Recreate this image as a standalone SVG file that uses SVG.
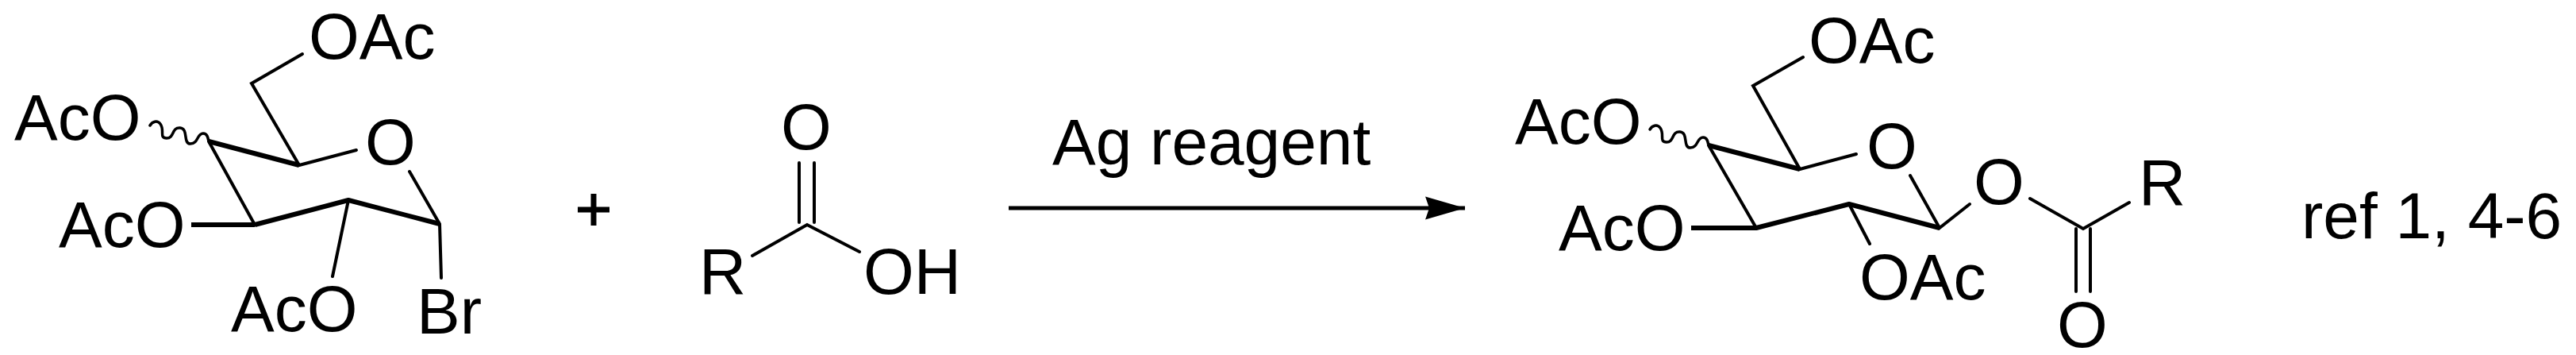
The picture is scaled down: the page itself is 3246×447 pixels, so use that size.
<svg xmlns="http://www.w3.org/2000/svg" width="3246" height="447" viewBox="0 0 3246 447">
<style>
text{font-family:"Liberation Sans",Arial,sans-serif;font-size:82px;fill:#000}
.b{fill:none;stroke:#000;stroke-width:4;stroke-linecap:round;stroke-linejoin:miter}
.t{fill:none;stroke:#000;stroke-width:6;stroke-linecap:butt;stroke-linejoin:round}
.w{fill:none;stroke:#000;stroke-width:3.5;stroke-linecap:round;stroke-linejoin:round}
</style>
<defs>
<marker id="ah" markerUnits="userSpaceOnUse" markerWidth="52" markerHeight="30" refX="50" refY="15" orient="auto"><path d="M0 0.5L50 15L0 29.5L5 15Z" fill="#000"/></marker>
</defs>
<rect width="3246" height="447" fill="#fff"/>
<g id="connectors">
<path class="b" d="M381 68L317 105L377 208M449 189L377 208"/>
<path class="t" d="M263 178L377 208"/>
<path class="b" d="M263 178L321 283M516 216L554 282L556 350M439 252L419 348"/>
<path class="t" d="M321 283L439 252L554 282M241 283L321 283"/>
<path class="w" d="M189 158C192 153 198 151 202 156C208 164 200 174 210 174C220 174 216 160 227 161C238 162 230 181 240 181C250 181 248 168 256 168C261 168 262 173 263 178"/>
<path class="b" d="M1007 205L1007 280M1026 205L1026 280M948 322L1017 283L1083 317"/>
<path d="M1271 262L1846 262" fill="none" stroke="#000" stroke-width="5" marker-end="url(#ah)"/>
<path class="b" d="M2272 72L2209 108L2268 213M2339 194L2268 213"/>
<path class="t" d="M2153 183L2268 213"/>
<path class="b" d="M2153 183L2213 287M2407 221L2444 287L2482 257M2330 257L2356 307"/>
<path class="t" d="M2131 287L2213 287L2330 257L2444 287"/>
<path class="w" d="M2079 163C2082 158 2088 156 2092 161C2098 169 2090 179 2100 179C2110 179 2106 165 2117 166C2128 167 2120 186 2130 186C2140 186 2138 173 2146 173C2151 173 2152 178 2153 183"/>
<path class="b" d="M2558 250L2625 288L2683 255M2616 288L2616 367M2634 288L2634 367"/>
</g>
<g id="glucosyl-bromide">
<text x="389" y="74">OAc</text>
<text x="18" y="176">AcO</text>
<text x="460" y="207">O</text>
<text x="74" y="311">AcO</text>
<text x="291" y="417">AcO</text>
<text x="525" y="420">Br</text>
</g>
<g id="plus"><path d="M728 264H768M748 244V284" fill="none" stroke="#000" stroke-width="7"/></g>
<g id="acid">
<text x="984" y="188">O</text>
<text x="881" y="370">R</text>
<text x="1088" y="370">OH</text>
</g>
<g id="reagent"><text x="1326" y="207">Ag reagent</text></g>
<g id="product">
<text x="2279" y="79">OAc</text>
<text x="1909" y="181">AcO</text>
<text x="2352" y="212">O</text>
<text x="1964" y="315">AcO</text>
<text x="2343" y="377">OAc</text>
<text x="2487" y="257">O</text>
<text x="2695" y="258">R</text>
<text x="2592" y="437">O</text>
</g>
<g id="ref"><text x="2900" y="300">ref 1, 4-6</text></g>
</svg>
